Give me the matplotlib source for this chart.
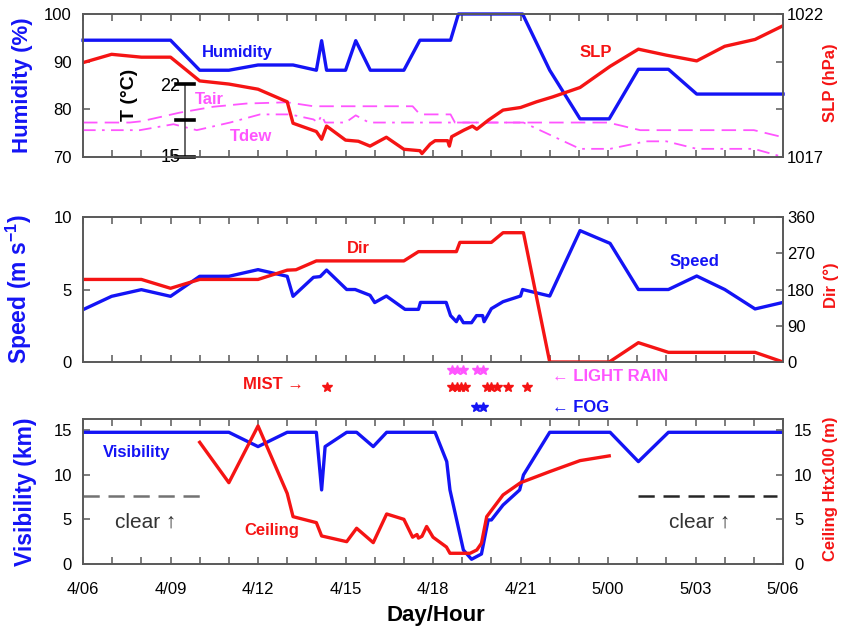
import numpy as np
import matplotlib
matplotlib.use('Agg')
import matplotlib.pyplot as plt

plt.rcParams['font.family'] = ['Liberation Sans', 'DejaVu Sans']
plt.rcParams['mathtext.fontset'] = 'custom'
plt.rcParams['mathtext.rm'] = 'Liberation Sans'
plt.rcParams['mathtext.bf'] = 'Liberation Sans:bold'
plt.rcParams['mathtext.default'] = 'bf'

### Data (x = hours since 4/06)

hum_h = [0, 3.0, 4.0, 5.0, 6.0, 7.2, 8.0, 8.18, 8.35, 9.0, 9.35, 9.85, 11.0,
         11.55, 12.6, 12.87, 15.07, 16.0, 17.04, 18.04, 19.04, 20.07, 21.04, 24.0]
hum = [94.5, 94.5, 88.2, 88.2, 89.3, 89.3, 88.2, 94.4, 88.2, 88.2, 94.4, 88.2,
       88.2, 94.5, 94.5, 100, 100, 88.2, 78, 78, 88.4, 88.4, 83.2, 83.2]

slp_h = [0, 0.98, 2.0, 3.0, 4.0, 5.0, 6.0, 7.0, 7.2, 8.0, 8.18, 8.35, 9.0, 9.44,
         9.84, 10.4, 11.0, 11.55, 11.62, 11.9, 12.07, 12.5, 12.56, 12.64, 13.06,
         13.35, 13.5, 13.9, 14.4, 15.0, 15.55, 16.1, 17.04, 18.07, 19.04, 20.0,
         21.04, 22.0, 23.04, 24.0]
slp = [1020.30, 1020.59, 1020.49, 1020.49, 1019.66, 1019.55, 1019.37, 1018.93,
       1018.18, 1017.89, 1017.62, 1018.08, 1017.59, 1017.55, 1017.38, 1017.69,
       1017.27, 1017.22, 1017.12, 1017.45, 1017.57, 1017.57, 1017.38, 1017.71,
       1017.94, 1018.08, 1017.97, 1018.29, 1018.64, 1018.73, 1018.93, 1019.10,
       1019.43, 1020.17, 1020.77, 1020.56, 1020.36, 1020.87, 1021.11, 1021.59]

tair_h = [0, 1.6, 2.0, 3.3, 4.46, 5.6, 7.0, 7.9, 11.3, 11.55, 12.6, 12.75, 18.0,
          19.1, 23.0, 24.0]
tair = [18.3, 18.3, 18.42, 19.24, 19.81, 20.12, 20.24, 19.86, 19.86, 19.08,
        19.08, 18.3, 18.3, 17.57, 17.57, 16.89]

tdew_h = [0, 1.95, 3.1, 3.9, 5.04, 6.07, 7.1, 7.9, 8.05, 8.18, 8.3, 9.0, 9.35,
          9.8, 15.1, 17.04, 18.07, 19.3, 20.0, 21.04, 23.0, 24.0]
tdew = [17.57, 17.57, 18.14, 17.57, 18.3, 19.08, 19.08, 18.6, 18.3, 18.99, 18.3,
        18.3, 18.99, 18.3, 18.3, 15.78, 15.78, 16.5, 16.5, 15.78, 15.78, 15.0]

spd_h = [0, 0.98, 2.0, 3.0, 4.0, 5.0, 6.0, 7.0, 7.2, 7.9, 8.13, 8.35, 9.04, 9.33,
         9.84, 10.0, 10.4, 11.04, 11.5, 11.57, 12.45, 12.6, 12.8, 12.9, 13.04,
         13.32, 13.49, 13.7, 13.75, 14.0, 14.4, 15.0, 15.07, 16.0, 17.04, 18.07,
         19.04, 20.07, 21.04, 22.0, 23.04, 24.0]
spd = [3.61, 4.53, 4.99, 4.53, 5.91, 5.91, 6.37, 5.91, 4.53, 5.84, 5.89, 6.34,
       5.0, 5.0, 4.6, 4.1, 4.55, 3.63, 3.63, 4.11, 4.11, 3.2, 2.78, 3.17, 2.71,
       2.71, 3.2, 3.2, 2.78, 3.68, 4.16, 4.55, 5.0, 4.55, 9.06, 8.18, 5.0, 5.0,
       5.93, 5.0, 3.66, 4.11]

dir_h = [0, 2.0, 3.0, 4.0, 6.0, 7.0, 7.3, 8.0, 11.0, 11.5, 12.8, 12.92, 14.0,
         14.4, 15.1, 16.0, 18.04, 19.04, 20.07, 23.04, 24.0]
wdir = [205, 205, 183, 205, 205, 228, 229, 251, 251, 274, 274, 297, 297, 321,
        321, 0, 0, 48, 24, 24, 0]

vis_h = [0, 5.0, 6.0, 7.0, 8.0, 8.18, 8.3, 9.04, 9.38, 9.95, 10.41, 12.07,
         12.47, 12.58, 13.04, 13.32, 13.66, 13.89, 14.0, 14.4, 14.97, 15.1, 16.0,
         18.07, 19.04, 20.07, 24.0]
vis = [14.74, 14.74, 13.14, 14.74, 14.74, 8.29, 13.14, 14.74, 14.74, 13.14,
       14.74, 14.74, 11.46, 8.29, 1.57, 0.53, 1.12, 4.93, 4.93, 6.6, 8.29, 9.97,
       14.74, 14.74, 11.46, 14.74, 14.74]

ceil_h = [4.0, 5.0, 6.0, 7.0, 7.2, 8.0, 8.18, 9.04, 9.38, 9.95, 10.41, 11.0,
          11.3, 11.45, 11.5, 11.62, 11.78, 12.0, 12.46, 12.58, 13.27, 13.5,
          13.66, 13.84, 14.4, 15.0, 16.0, 17.04, 18.04]
ceil = [13.62, 9.1, 15.45, 7.9, 5.3, 4.63, 3.14, 2.5, 4.0, 2.39, 5.6, 5.0, 3.0,
        3.3, 2.9, 3.1, 4.2, 3.0, 1.9, 1.2, 1.2, 1.57, 2.32, 5.3, 7.73, 9.1,
        10.34, 11.57, 12.1]

rain_h = [12.64, 12.81, 13.04, 13.49, 13.72]
mist_h = [8.35, 12.64, 12.81, 12.95, 13.1, 13.84, 14.0, 14.18, 14.58, 15.21]
fog_h = [13.47, 13.7]

clear_level = 7.6
clear_left = [0, 4.0]
clear_right = [19.04, 23.8]

xlabels = ['4/06', '4/09', '4/12', '4/15', '4/18', '4/21', '5/00', '5/03', '5/06']

### Plot

BLUE = '#1414f5'
RED = '#f51414'
MAG = '#ff55ff'
SPINE = '0.35'

fig = plt.figure(figsize=(8.42, 6.33), dpi=100)
ax1 = fig.add_axes([0.0986, 0.752, 0.8314, 0.2259])
ax2 = fig.add_axes([0.0986, 0.4281, 0.8314, 0.2291])
axw = fig.add_axes([0.0986, 0.338, 0.8314, 0.0900])
ax3 = fig.add_axes([0.0986, 0.109, 0.8314, 0.2291])


def style(ax, pad=8):
    ax.set_xlim(0, 24)
    ax.set_xticks(np.arange(25))
    ax.tick_params(direction='in', length=5, width=1.1, color=SPINE,
                   labelsize=12, top=True, pad=pad)
    for s in ax.spines.values():
        s.set_color(SPINE)
        s.set_linewidth(1.2)


# top panel
style(ax1)
ax1.plot(hum_h, hum, color=BLUE, lw=2.4, clip_on=False)
ax1.set_ylim(70, 100)
ax1.set_yticks([70, 80, 90, 100])
ax1.set_xticklabels([])
ax1.set_ylabel('Humidity (%)', color=BLUE, fontsize=16, fontweight='bold')
ax1.yaxis.set_label_coords(-0.071, 0.5)

axT = ax1.twinx()
axT.set_ylim(15, 28.7)
axT.axis('off')
axT.plot(tair_h, tair, color=MAG, lw=1.3, ls=(0, (8, 4)))
axT.plot(tdew_h, tdew, color=MAG, lw=1.3, ls=(0, (7, 3.5, 1.5, 3.5)))
axT.plot([3.5, 3.5], [15, 22], color='0.3', lw=1.2, clip_on=False)
for t in [15, 18.5, 22]:
    axT.plot([3.19, 3.81], [t, t], color='k', lw=2.6, clip_on=False)

ax1r = ax1.twinx()
style(ax1r, pad=3)
ax1r.plot(slp_h, slp, color=RED, lw=2.4)
ax1r.set_ylim(1017, 1022)
ax1r.set_yticks(np.linspace(1017, 1022, 4))
ax1r.set_yticklabels(['1017', '', '', '1022'])
ax1r.set_ylabel('SLP (hPa)', color=RED, fontsize=12, fontweight='bold')
ax1r.yaxis.set_label_coords(1.057, 0.52)

ax1.text(0.22, 0.734, 'Humidity', color=BLUE, fontsize=12, fontweight='bold',
         ha='center', va='center', transform=ax1.transAxes)
ax1.text(0.733, 0.734, 'SLP', color=RED, fontsize=12, fontweight='bold',
         ha='center', va='center', transform=ax1.transAxes)
ax1.text(0.18, 0.40, 'Tair', color=MAG, fontsize=12, fontweight='bold',
         ha='center', va='center', transform=ax1.transAxes)
ax1.text(0.24, 0.14, 'Tdew', color=MAG, fontsize=12, fontweight='bold',
         ha='center', va='center', transform=ax1.transAxes)
ax1.text(0.066, 0.434, 'T (°C)', color='k', fontsize=14, fontweight='bold',
         rotation=90, ha='center', va='center', transform=ax1.transAxes)
ax1.text(0.139, 0.49, '22', fontsize=13, ha='right', va='center',
         transform=ax1.transAxes)
ax1.text(0.139, -0.007, '15', fontsize=13, ha='right', va='center',
         transform=ax1.transAxes)

# middle panel
style(ax2)
ax2.plot(spd_h, spd, color=BLUE, lw=2.4)
ax2.set_ylim(0, 10)
ax2.set_yticks([0, 5, 10])
ax2.set_xticklabels([])
ax2.set_ylabel('Speed (m s$^{-1}$)', color=BLUE, fontsize=16.5, fontweight='bold')
ax2.yaxis.set_label_coords(-0.07, 0.5)

ax2r = ax2.twinx()
style(ax2r, pad=3)
ax2r.plot(dir_h, wdir, color=RED, lw=2.4)
ax2r.set_ylim(0, 360)
ax2r.set_yticks([0, 90, 180, 270, 360])
ax2r.set_ylabel('Dir (°)', color=RED, fontsize=12, fontweight='bold')
ax2r.yaxis.set_label_coords(1.057, 0.53)

ax2.text(0.393, 0.786, 'Dir', color=RED, fontsize=12, fontweight='bold',
         ha='center', va='center', transform=ax2.transAxes)
ax2.text(0.873, 0.69, 'Speed', color=BLUE, fontsize=12, fontweight='bold',
         ha='center', va='center', transform=ax2.transAxes)

# weather symbols
axw.set_xlim(0, 24)
axw.set_ylim(0, 1)
axw.axis('off')
axw.plot(rain_h, [0.86] * len(rain_h), ls='none', marker='*', ms=7.5, color=MAG)
axw.plot(mist_h, [0.56] * len(mist_h), ls='none', marker='*', ms=7.5, color=RED)
axw.plot(fog_h, [0.21] * len(fog_h), ls='none', marker='*', ms=7.5, color=BLUE)
axw.text(5.49, 0.61, 'MIST →', color=RED, fontsize=12, fontweight='bold',
         ha='left', va='center')
axw.text(16.07, 0.75, '← LIGHT RAIN', color=MAG, fontsize=12,
         fontweight='bold', ha='left', va='center')
axw.text(16.07, 0.21, '← FOG', color=BLUE, fontsize=12, fontweight='bold',
         ha='left', va='center')

# bottom panel
style(ax3)
ax3.plot(vis_h, vis, color=BLUE, lw=2.4)
ax3.plot(clear_left, [clear_level] * 2, color='0.45', lw=1.8, ls=(0, (6.5, 3.5)))
ax3.plot(clear_right, [clear_level] * 2, color='0.15', lw=1.8, ls=(0, (6.5, 3.5)))
ax3.set_ylim(0, 16.23)
ax3.set_yticks([0, 5, 10, 15])
ax3.set_xticklabels([xlabels[i // 3] if i % 3 == 0 else '' for i in range(25)])
ax3.tick_params(axis='x', pad=13)
ax3.set_ylabel('Visibility (km)', color=BLUE, fontsize=16.5, fontweight='bold')
ax3.yaxis.set_label_coords(-0.066, 0.5)
ax3.set_xlabel('Day/Hour', fontsize=16, fontweight='bold')
ax3.xaxis.set_label_coords(0.504, -0.28)

ax3r = ax3.twinx()
style(ax3r, pad=8)
ax3r.plot(ceil_h, ceil, color=RED, lw=2.4)
ax3r.set_ylim(0, 16.23)
ax3r.set_yticks([0, 5, 10, 15])
ax3r.set_ylabel('Ceiling Htx100 (m)', color=RED, fontsize=12, fontweight='bold')
ax3r.yaxis.set_label_coords(1.057, 0.52)

ax3.text(0.076, 0.772, 'Visibility', color=BLUE, fontsize=12, fontweight='bold',
         ha='center', va='center', transform=ax3.transAxes)
ax3.text(0.27, 0.228, 'Ceiling', color=RED, fontsize=12, fontweight='bold',
         ha='center', va='center', transform=ax3.transAxes)
ax3.text(0.089, 0.29, 'clear ↑', color='0.2', fontsize=15,
         ha='center', va='center', transform=ax3.transAxes)
ax3.text(0.881, 0.29, 'clear ↑', color='0.2', fontsize=15,
         ha='center', va='center', transform=ax3.transAxes)

fig.savefig('out.png', dpi=100)
